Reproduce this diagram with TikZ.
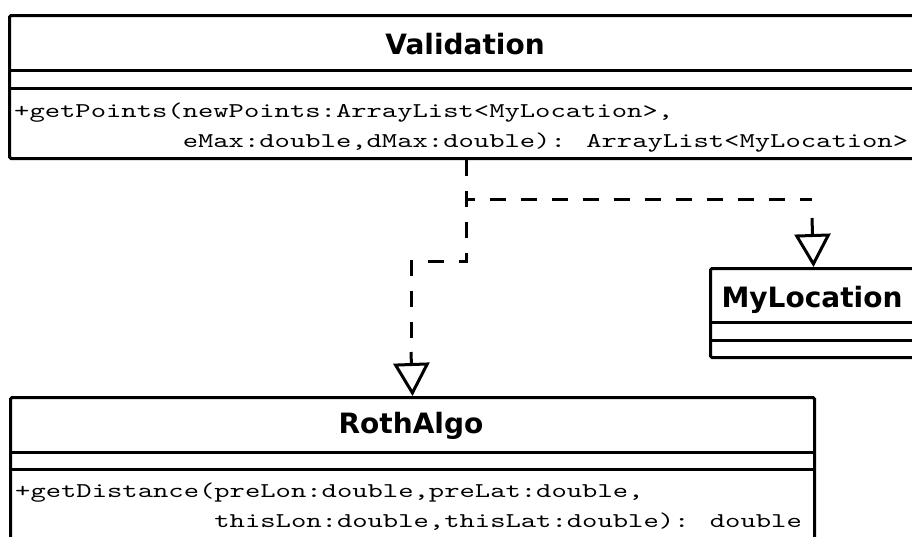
\documentclass[tikz,border=0pt]{standalone}
\usepackage{fontspec}
\usetikzlibrary{arrows.meta}
\newfontfamily\umlnamefont{DejaVu Sans}
\newfontfamily\umlmonofont{lmmono10-regular.otf}[FakeStretch=1.39]
\begin{document}
\begin{tikzpicture}[x=1pt,y=-1pt,
  classbox/.style={draw, line width=3pt, rounded corners=1.5pt, inner sep=0pt,
    anchor=north west, fill=white},
  divider/.style={line width=3pt},
  classname/.style={font=\umlnamefont\bfseries\fontsize{28}{34}\selectfont,
    inner sep=0pt, anchor=base},
  member/.style={font=\umlmonofont\fontsize{21}{30}\selectfont,
    inner sep=0pt, anchor=base west},
  depline/.style={line width=3pt, dash pattern=on 16pt off 15pt},
  realtip/.style={line width=3pt, -{Triangle[open, length=33pt, width=36pt]}}]

\useasboundingbox (0,0) rectangle (912,536);
\clip (0,0) rectangle (912,536);

% class Validation
\node[classbox, minimum width=914pt, minimum height=143pt] (val) at (8,14) {};
\draw[divider] (8,70) -- (922,70);
\draw[divider] (8,88) -- (922,88);
\node[classname] (valname) at (465,54) {Validation};
\node[member] (valop1) at (14,117) {+getPoints(newPoints:ArrayList<MyLocation>,};
\node[member] (valop2) at (14,147) {\phantom{+getPoints(}eMax:double,dMax:double): ArrayList<MyLocation>};

% class MyLocation
\node[classbox, minimum width=206pt, minimum height=89pt] (myl) at (709,267) {};
\draw[divider] (709,322) -- (915,322);
\draw[divider] (709,340) -- (915,340);
\node[classname] (mylname) at (812,307) {MyLocation};

% class RothAlgo
\node[classbox, minimum width=804pt, minimum height=170pt] (roth) at (9,396) {};
\draw[divider] (9,452) -- (813,452);
\draw[divider] (9,469) -- (813,469);
\node[classname] (rothname) at (411,433) {RothAlgo};
\node[member] (rothop1) at (15,497) {+getDistance(preLon:double,preLat:double,};
\node[member] (rothop2) at (15,527) {\phantom{+getDistance(}thisLon:double,thisLat:double): double};

% dependency bends and arrow stems
\coordinate (ka) at (812,199);
\coordinate (kastem) at (812,218);
\coordinate (kb) at (411,261);
\coordinate (kbstem) at (411,352);

% Validation -> MyLocation
\draw[depline] (val.south) |- (ka);
\draw[realtip] (kastem) -- (myl.north);

% Validation -> RothAlgo
\draw[depline] (val.south) |- (kb) -- (kbstem);
\draw[realtip] (kbstem) -- (roth.north);
\end{tikzpicture}
\end{document}
